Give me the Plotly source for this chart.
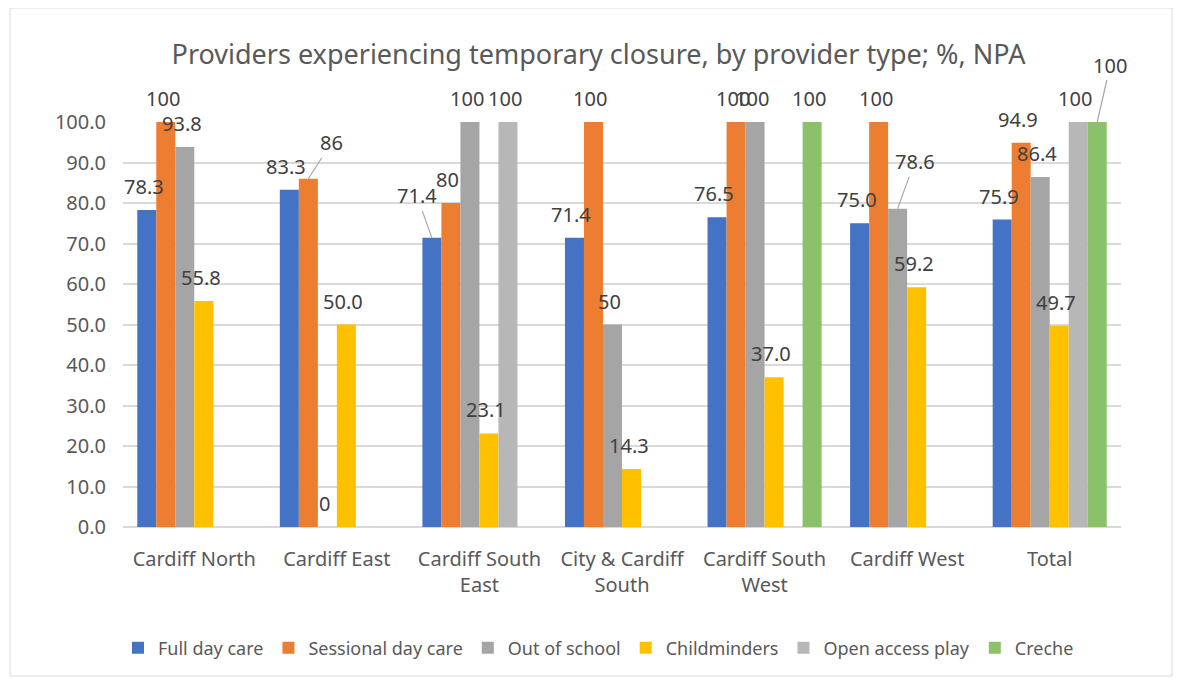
import plotly.graph_objects as go

categories = ["Cardiff North", "Cardiff East", "Cardiff South<br>East", "City & Cardiff<br>South",
              "Cardiff South<br>West", "Cardiff West", "Total"]
full_day_care = [78.3, 83.3, 71.4, 71.4, 76.5, 75.0, 75.9]
sessional_day_care = [100, 86, 80, 100, 100, 100, 94.9]
out_of_school = [93.8, 0, 100, 50, 100, 78.6, 86.4]
childminders = [55.8, 50.0, 23.1, 14.3, 37.0, 59.2, 49.7]
open_access_play = [None, None, 100, None, None, None, 100]
creche = [None, None, None, None, 100, None, 100]
y_ticks = [0, 10, 20, 30, 40, 50, 60, 70, 80, 90, 100]

series = [
    ("Full day care", full_day_care, "#4472C4", "{:.1f}"),
    ("Sessional day care", sessional_day_care, "#ED7D31", "{:g}"),
    ("Out of school", out_of_school, "#A5A5A5", "{:g}"),
    ("Childminders", childminders, "#FFC000", "{:.1f}"),
    ("Open access play", open_access_play, "#B7B7B7", "{:g}"),
    ("Creche", creche, "#8BC168", "{:g}"),
]

# labels that were dragged away from their bar in the original (with leader lines):
# (series index, category index) -> (ax, ay) pixel offset of label from bar top
leader_labels = {(1, 1): (23, -36), (5, 6): (13, -57), (0, 2): (-15, -42), (2, 5): (17, -47)}

FONT = "Noto Sans"
TXT = "#595959"
BARGAP = 0.2

# page body has an 8px margin; place plot area to match reference pixels
OFF = 8
W, H = 1181, 680
ml, mt = 123 - OFF, 122 - OFF
plot_right, plot_bottom = 1121 - OFF, 527 - OFF
mr, mb = W - plot_right, H - plot_bottom
pw, ph = W - ml - mr, H - mt - mb
n_series = len(series)
slot_px = pw / len(categories) * (1 - BARGAP) / n_series

fig = go.Figure()
annotations = []
for i, (name, vals, color, fmt) in enumerate(series):
    fig.add_trace(go.Bar(
        name=name, x=categories, y=vals, offsetgroup=str(i),
        marker=dict(color=color, line=dict(width=0)), hoverinfo="skip",
    ))
    for j, (cat, v) in enumerate(zip(categories, vals)):
        if v is None:
            continue
        base = dict(x=cat, y=v, xref="x", yref="y", text=fmt.format(v),
                    font=dict(family=FONT, size=20, color="#404040"))
        if (i, j) in leader_labels:
            ax, ay = leader_labels[(i, j)]
            base.update(showarrow=True, arrowhead=0, arrowwidth=1.2, arrowcolor="#A6A6A6",
                        ax=ax, ay=ay, axref="pixel", ayref="pixel", standoff=0,
                        xshift=(i - (n_series - 1) / 2) * slot_px)
        else:
            base.update(showarrow=False, xanchor="center", yanchor="bottom",
                        xshift=(i - (n_series - 1) / 2) * slot_px - 3, yshift=8)
        annotations.append(base)

fig.update_layout(
    width=W, height=H,
    margin=dict(l=ml, r=mr, t=mt, b=mb, autoexpand=False),
    paper_bgcolor="white", plot_bgcolor="white",
    barmode="group", bargap=BARGAP, bargroupgap=0,
    title=dict(text="Providers experiencing temporary closure, by provider type; %, NPA",
               x=0.5, xanchor="center", y=1 - (55 - OFF) / H, yanchor="middle",
               font=dict(family=FONT, size=27, color=TXT)),
    font=dict(family=FONT, size=20, color=TXT),
    xaxis=dict(range=[-0.5, len(categories) - 0.5], autorange=False,
               showgrid=False, showline=False, ticks="", ticklabelstandoff=18,
               tickfont=dict(family=FONT, size=20, color=TXT)),
    yaxis=dict(range=[0, 100], autorange=False, tickvals=y_ticks, tickformat=".1f", showgrid=True,
               gridcolor="#D9D9D9", gridwidth=2, zeroline=True, zerolinecolor="#D9D9D9",
               zerolinewidth=2, showline=False, ticks="", ticklabelstandoff=16,
               tickfont=dict(family=FONT, size=20, color=TXT)),
    legend=dict(orientation="h", x=0.5, xanchor="center", xref="container", yref="container",
                y=1 - (648 - OFF) / H, yanchor="middle",
                font=dict(family=FONT, size=18, color=TXT), itemwidth=30, traceorder="normal"),
    annotations=annotations,
    shapes=[dict(type="rect", xref="paper", yref="paper",
                 x0=(10 - OFF - ml) / pw, x1=(1172 - OFF - ml) / pw,
                 y0=(plot_bottom - (676 - OFF)) / ph, y1=1 + mt / ph,
                 line=dict(color="#D9D9D9", width=1), layer="below")],
)

fig.write_html("out.html")
